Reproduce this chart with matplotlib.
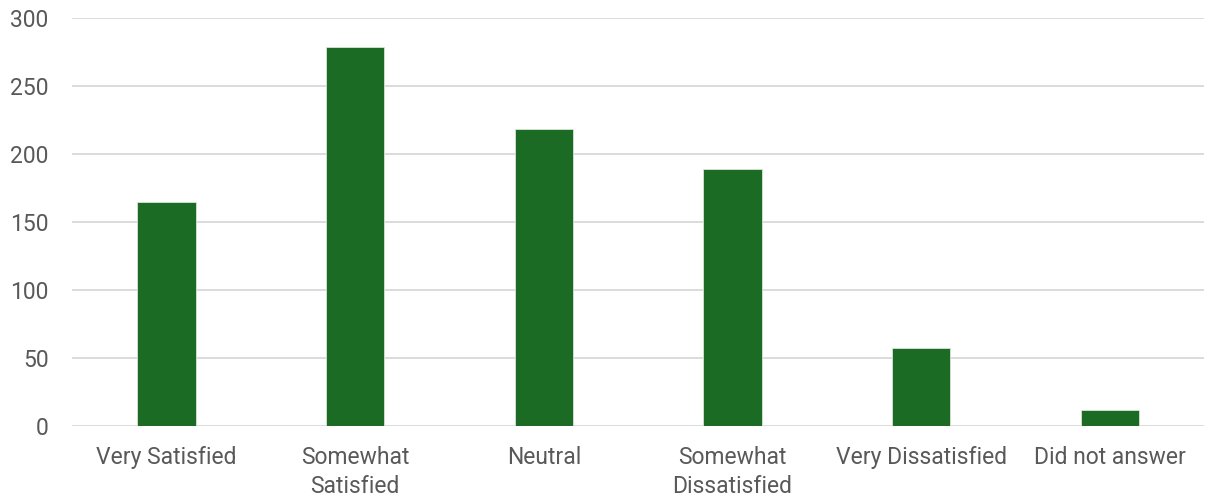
import numpy as np
import matplotlib
matplotlib.use("Agg")
from matplotlib import pyplot as plt

categories = ["Very Satisfied", "Somewhat\nSatisfied", "Neutral",
              "Somewhat\nDissatisfied", "Very Dissatisfied", "Did not answer"]
counts = [165, 279, 218, 189, 57, 12]
yticks = [0, 50, 100, 150, 200, 250, 300]

plt.rcParams["font.family"] = ["Roboto", "DejaVu Sans"]

fig = plt.figure(figsize=(12.05, 4.99), dpi=100)
ax = fig.add_axes([0.0598, 0.1463, 0.9395, 0.8177])

x = np.arange(len(categories))
ax.bar(x, counts, width=0.31, color="#1b6b24", edgecolor="#d6e6d6", linewidth=0.6, zorder=3)

ax.set_xlim(-0.5, len(categories) - 0.5)
ax.set_ylim(0, 300)
ax.set_yticks(yticks)
ax.set_xticks(x)
ax.set_xticklabels(categories, linespacing=1.3)

ax.grid(axis="y", color="#d9d9d9", linewidth=1.3, zorder=0)
for s in ax.spines.values():
    s.set_visible(False)
ax.tick_params(axis="both", length=0, labelsize=16.5, labelcolor="#595959")
ax.tick_params(axis="y", pad=17)
ax.tick_params(axis="x", pad=14.5)

fig.savefig("out.png", dpi=100)
